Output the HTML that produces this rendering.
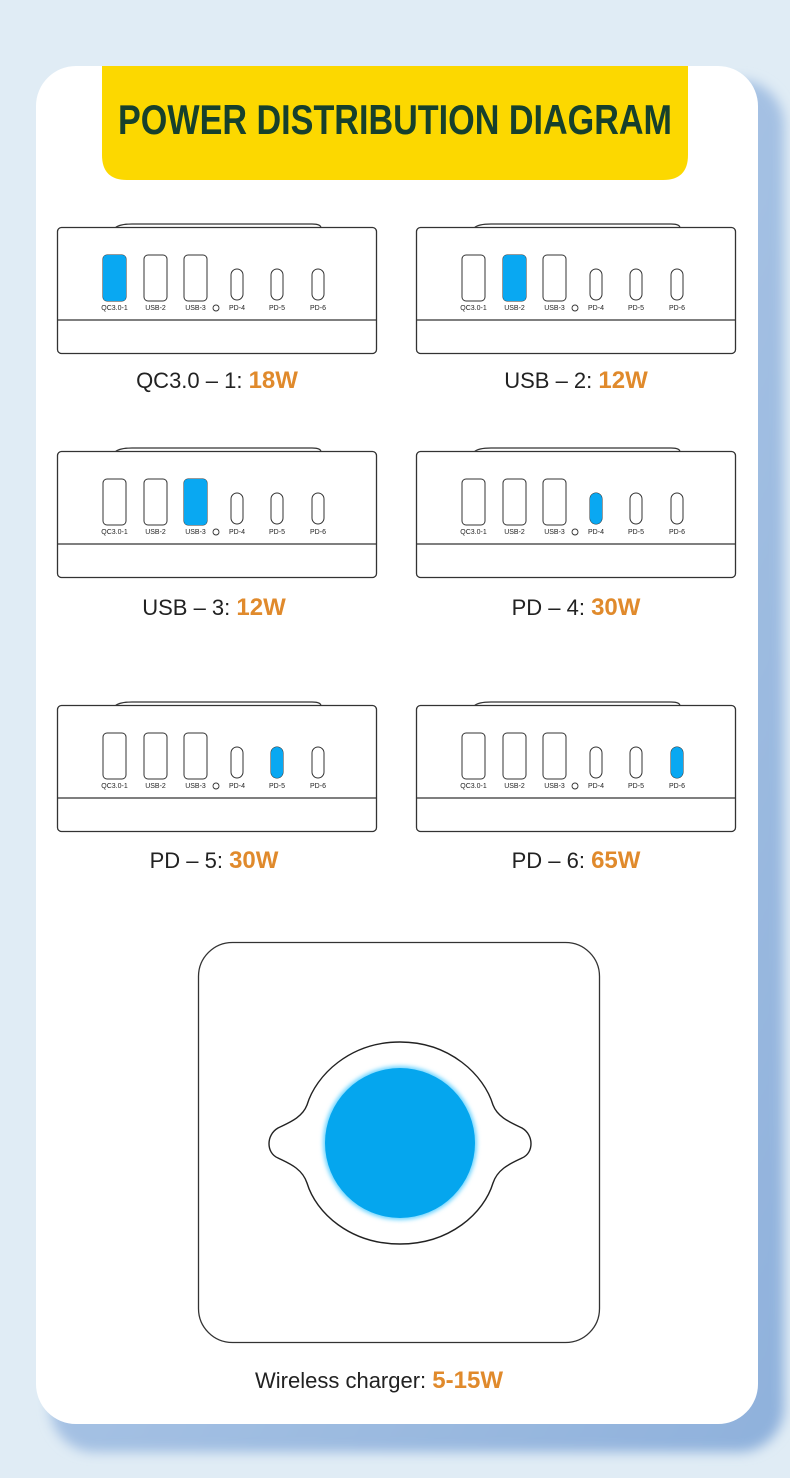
<!DOCTYPE html>
<html><head><meta charset="utf-8"><style>
html,body{margin:0;padding:0;background:#e0ecf5;}
svg{display:block}
.pl{font-family:"Liberation Sans",sans-serif;font-size:7px;fill:#222;text-anchor:middle;}
.lab{font-family:"Liberation Sans",sans-serif;font-size:22px;fill:#222;text-anchor:middle;}
.w{font-weight:bold;fill:#e08a2c;font-family:"Liberation Sans Narrow","Liberation Sans",sans-serif;font-size:24px;}
</style></head><body>
<svg width="790" height="1478" viewBox="0 0 790 1478" xmlns="http://www.w3.org/2000/svg">
<defs>
<linearGradient id="sh" x1="0" y1="0" x2="1" y2="1"><stop offset="0" stop-color="#b9d0ea"/><stop offset="1" stop-color="#8fb1dc"/></linearGradient>
<filter id="bl"><feGaussianBlur stdDeviation="6"/></filter>
<filter id="gl"><feGaussianBlur stdDeviation="2"/></filter>
<g id="dev">
<path d="M58,1 Q62,-3 75,-3 L255,-3 Q264,-3 264,1" fill="none" stroke="#333" stroke-width="1.2"/>
<rect x="0.5" y="0.5" width="319" height="126" rx="4" fill="#fff" stroke="#333" stroke-width="1.3"/>
<line x1="1" y1="93" x2="319" y2="93" stroke="#333" stroke-width="1.3"/>
<rect x="46" y="28" width="23" height="46" rx="4" fill="#fff" stroke="#333" stroke-width="1"/>
<rect x="87" y="28" width="23" height="46" rx="4" fill="#fff" stroke="#333" stroke-width="1"/>
<rect x="127" y="28" width="23" height="46" rx="4" fill="#fff" stroke="#333" stroke-width="1"/>
<circle cx="159" cy="81" r="3" fill="none" stroke="#333" stroke-width="0.9"/>
<rect x="174" y="42" width="12" height="31" rx="6" fill="#fff" stroke="#333" stroke-width="1"/>
<rect x="214" y="42" width="12" height="31" rx="6" fill="#fff" stroke="#333" stroke-width="1"/>
<rect x="255" y="42" width="12" height="31" rx="6" fill="#fff" stroke="#333" stroke-width="1"/>
</g>
</defs>
<rect x="0" y="0" width="790" height="1478" fill="#e0ecf5"/>
<rect x="50" y="80" width="734" height="1372" rx="45" fill="url(#sh)" filter="url(#bl)"/>
<rect x="36" y="66" width="722" height="1358" rx="40" fill="#fff"/>
<path d="M102,66 L688,66 L688,155 Q688,180 663,180 L127,180 Q102,180 102,155 Z" fill="#fcd800"/>
<text x="395" y="134" text-anchor="middle" font-family="'Liberation Sans Narrow','Liberation Sans',sans-serif" font-weight="bold" font-size="42" fill="#17402c" textLength="554" lengthAdjust="spacingAndGlyphs">POWER DISTRIBUTION DIAGRAM</text>

<!-- row 1 -->
<g transform="translate(57,227)"><use href="#dev"/>
<rect x="46" y="28" width="23" height="46" rx="4" fill="#09a8f2"/>
<text class="pl" x="57.5" y="83">QC3.0-1</text><text class="pl" x="98.5" y="83">USB-2</text><text class="pl" x="138.5" y="83">USB-3</text><text class="pl" x="180" y="83">PD-4</text><text class="pl" x="220" y="83">PD-5</text><text class="pl" x="261" y="83">PD-6</text></g>
<text class="lab" x="217" y="388">QC3.0 – 1: <tspan class="w">18W</tspan></text>

<g transform="translate(416,227)"><use href="#dev"/>
<rect x="87" y="28" width="23" height="46" rx="4" fill="#09a8f2"/>
<text class="pl" x="57.5" y="83">QC3.0-1</text><text class="pl" x="98.5" y="83">USB-2</text><text class="pl" x="138.5" y="83">USB-3</text><text class="pl" x="180" y="83">PD-4</text><text class="pl" x="220" y="83">PD-5</text><text class="pl" x="261" y="83">PD-6</text></g>
<text class="lab" x="576" y="388">USB – 2: <tspan class="w">12W</tspan></text>

<!-- row 2 -->
<g transform="translate(57,451)"><use href="#dev"/>
<rect x="127" y="28" width="23" height="46" rx="4" fill="#09a8f2"/>
<text class="pl" x="57.5" y="83">QC3.0-1</text><text class="pl" x="98.5" y="83">USB-2</text><text class="pl" x="138.5" y="83">USB-3</text><text class="pl" x="180" y="83">PD-4</text><text class="pl" x="220" y="83">PD-5</text><text class="pl" x="261" y="83">PD-6</text></g>
<text class="lab" x="214" y="615">USB – 3: <tspan class="w">12W</tspan></text>

<g transform="translate(416,451)"><use href="#dev"/>
<rect x="174" y="42" width="12" height="31" rx="6" fill="#09a8f2"/>
<text class="pl" x="57.5" y="83">QC3.0-1</text><text class="pl" x="98.5" y="83">USB-2</text><text class="pl" x="138.5" y="83">USB-3</text><text class="pl" x="180" y="83">PD-4</text><text class="pl" x="220" y="83">PD-5</text><text class="pl" x="261" y="83">PD-6</text></g>
<text class="lab" x="576" y="615">PD – 4: <tspan class="w">30W</tspan></text>

<!-- row 3 -->
<g transform="translate(57,705)"><use href="#dev"/>
<rect x="214" y="42" width="12" height="31" rx="6" fill="#09a8f2"/>
<text class="pl" x="57.5" y="83">QC3.0-1</text><text class="pl" x="98.5" y="83">USB-2</text><text class="pl" x="138.5" y="83">USB-3</text><text class="pl" x="180" y="83">PD-4</text><text class="pl" x="220" y="83">PD-5</text><text class="pl" x="261" y="83">PD-6</text></g>
<text class="lab" x="214" y="868">PD – 5: <tspan class="w">30W</tspan></text>

<g transform="translate(416,705)"><use href="#dev"/>
<rect x="255" y="42" width="12" height="31" rx="6" fill="#09a8f2"/>
<text class="pl" x="57.5" y="83">QC3.0-1</text><text class="pl" x="98.5" y="83">USB-2</text><text class="pl" x="138.5" y="83">USB-3</text><text class="pl" x="180" y="83">PD-4</text><text class="pl" x="220" y="83">PD-5</text><text class="pl" x="261" y="83">PD-6</text></g>
<text class="lab" x="576" y="868">PD – 6: <tspan class="w">65W</tspan></text>

<!-- wireless -->
<rect x="198.5" y="942.5" width="401" height="400" rx="34" fill="#fff" stroke="#333" stroke-width="1.3"/>
<path d="M400,1042 C450,1042 484,1075 493,1105 C498,1118 512,1123 522,1128 C534,1135 534,1153 522,1158 C512,1163 498,1168 493,1183 C484,1213 450,1244 400,1244 C350,1244 316,1213 307,1183 C302,1168 288,1163 278,1158 C266,1153 266,1135 278,1128 C288,1123 302,1118 307,1105 C316,1075 350,1042 400,1042 Z" fill="#fff" stroke="#222" stroke-width="1.4"/>
<ellipse cx="400" cy="1143" rx="77" ry="77" fill="#6cd4ff" filter="url(#gl)"/>
<ellipse cx="400" cy="1143" rx="75" ry="75" fill="#05a6ee"/>
<text class="lab" x="379" y="1388">Wireless charger:  <tspan class="w">5-15W</tspan></text>
</svg>
</body></html>
